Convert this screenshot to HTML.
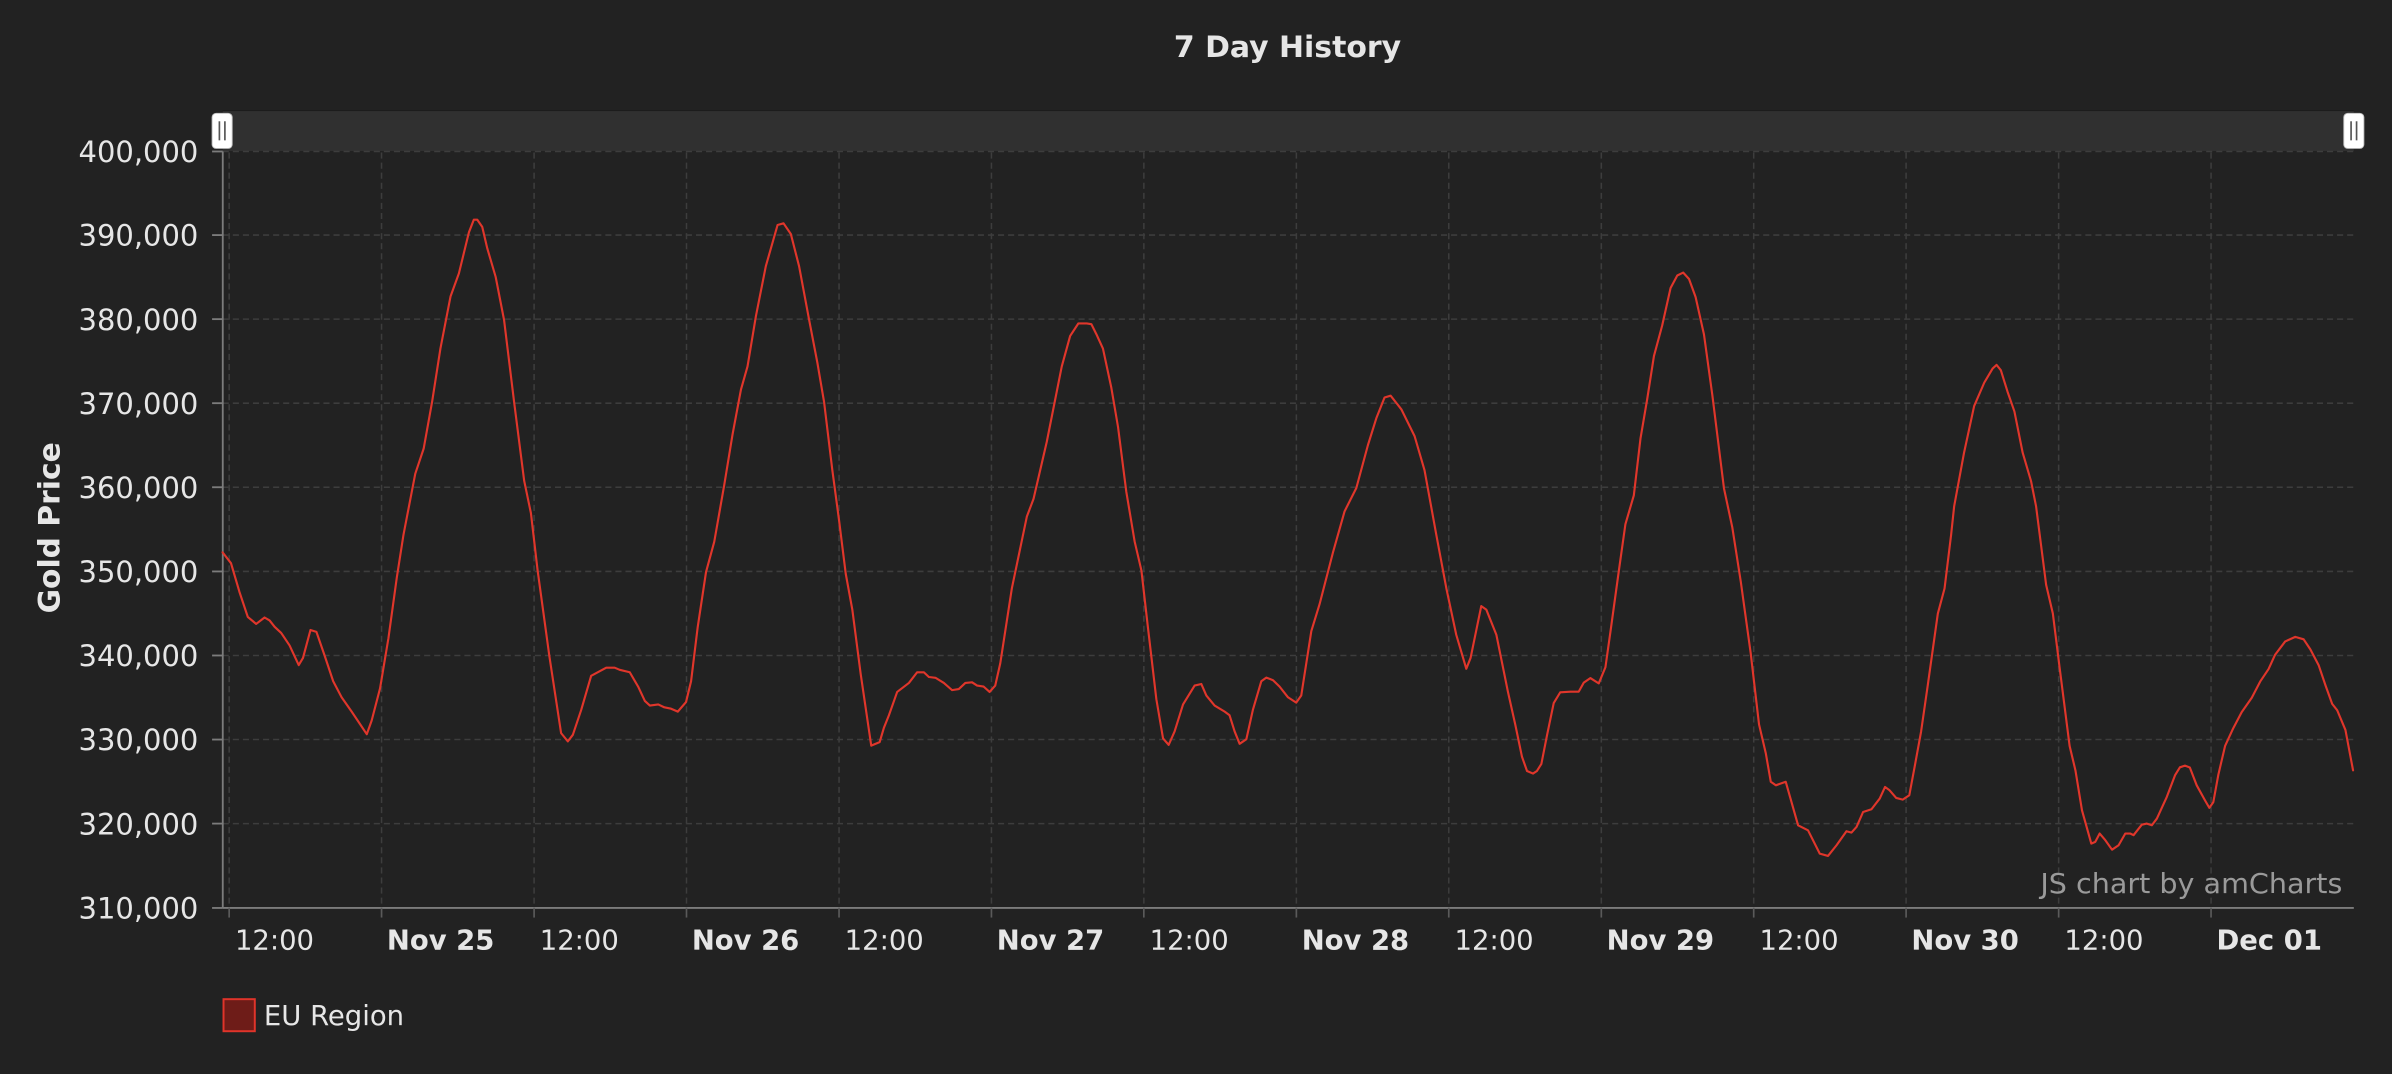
<!DOCTYPE html>
<html>
<head>
<meta charset="utf-8">
<style>
  html,body{margin:0;padding:0;background:#222222;}
  svg{display:block;}
  text{font-family:"DejaVu Sans","Liberation Sans",sans-serif;}
</style>
</head>
<body>
<svg width="2392" height="1074" viewBox="0 0 1568 704.05" xmlns="http://www.w3.org/2000/svg">
  <rect x="0" y="0" width="1568" height="704.05" fill="#222222"/>

  <!-- Title -->
  <text x="844" y="37.4" text-anchor="middle" font-size="19.5" font-weight="bold" fill="#e6e6e6" textLength="149" lengthAdjust="spacingAndGlyphs">7 Day History</text>

  <!-- Scrollbar -->
  <rect x="146" y="72.5" width="1397" height="26.5" fill="#303030"/>
  <line x1="146" y1="72.5" x2="1543" y2="72.5" stroke="#1c1c1c" stroke-width="0.7"/>

  <!-- Horizontal grid -->
  <g stroke="#3d3d3d" stroke-width="1" stroke-dasharray="4,2.6" fill="none">
    <line x1="146" y1="99.3" x2="1543" y2="99.3"/>
    <line x1="146" y1="154.1" x2="1543" y2="154.1"/>
    <line x1="146" y1="209.2" x2="1543" y2="209.2"/>
    <line x1="146" y1="264.3" x2="1543" y2="264.3"/>
    <line x1="146" y1="319.4" x2="1543" y2="319.4"/>
    <line x1="146" y1="374.6" x2="1543" y2="374.6"/>
    <line x1="146" y1="429.7" x2="1543" y2="429.7"/>
    <line x1="146" y1="484.8" x2="1543" y2="484.8"/>
    <line x1="146" y1="539.9" x2="1543" y2="539.9"/>
  </g>

  <!-- Vertical grid -->
  <g stroke="#3d3d3d" stroke-width="1" stroke-dasharray="4,2.6" fill="none">
    <line x1="150.2" y1="100" x2="150.2" y2="595"/>
    <line x1="250.1" y1="100" x2="250.1" y2="595"/>
    <line x1="350.1" y1="100" x2="350.1" y2="595"/>
    <line x1="450.0" y1="100" x2="450.0" y2="595"/>
    <line x1="550.0" y1="100" x2="550.0" y2="595"/>
    <line x1="649.9" y1="100" x2="649.9" y2="595"/>
    <line x1="749.8" y1="100" x2="749.8" y2="595"/>
    <line x1="849.8" y1="100" x2="849.8" y2="595"/>
    <line x1="949.7" y1="100" x2="949.7" y2="595"/>
    <line x1="1049.7" y1="100" x2="1049.7" y2="595"/>
    <line x1="1149.6" y1="100" x2="1149.6" y2="595"/>
    <line x1="1249.5" y1="100" x2="1249.5" y2="595"/>
    <line x1="1349.5" y1="100" x2="1349.5" y2="595"/>
    <line x1="1449.4" y1="100" x2="1449.4" y2="595"/>
  </g>

  <!-- Axes -->
  <g stroke="#7c7c7c" stroke-width="1.2" fill="none">
    <line x1="146" y1="99.3" x2="146" y2="595.2"/>
    <line x1="146" y1="595.2" x2="1543" y2="595.2"/>
    <!-- y ticks -->
    <line x1="139" y1="99.3" x2="146" y2="99.3"/>
    <line x1="139" y1="154.1" x2="146" y2="154.1"/>
    <line x1="139" y1="209.2" x2="146" y2="209.2"/>
    <line x1="139" y1="264.3" x2="146" y2="264.3"/>
    <line x1="139" y1="319.4" x2="146" y2="319.4"/>
    <line x1="139" y1="374.6" x2="146" y2="374.6"/>
    <line x1="139" y1="429.7" x2="146" y2="429.7"/>
    <line x1="139" y1="484.8" x2="146" y2="484.8"/>
    <line x1="139" y1="539.9" x2="146" y2="539.9"/>
    <line x1="139" y1="595.2" x2="146" y2="595.2"/>
  </g>
  <g stroke="#5a5a5a" stroke-width="1.1">
    <line x1="150.2" y1="595" x2="150.2" y2="601.5"/>
    <line x1="250.1" y1="595" x2="250.1" y2="601.5"/>
    <line x1="350.1" y1="595" x2="350.1" y2="601.5"/>
    <line x1="450.0" y1="595" x2="450.0" y2="601.5"/>
    <line x1="550.0" y1="595" x2="550.0" y2="601.5"/>
    <line x1="649.9" y1="595" x2="649.9" y2="601.5"/>
    <line x1="749.8" y1="595" x2="749.8" y2="601.5"/>
    <line x1="849.8" y1="595" x2="849.8" y2="601.5"/>
    <line x1="949.7" y1="595" x2="949.7" y2="601.5"/>
    <line x1="1049.7" y1="595" x2="1049.7" y2="601.5"/>
    <line x1="1149.6" y1="595" x2="1149.6" y2="601.5"/>
    <line x1="1249.5" y1="595" x2="1249.5" y2="601.5"/>
    <line x1="1349.5" y1="595" x2="1349.5" y2="601.5"/>
    <line x1="1449.4" y1="595" x2="1449.4" y2="601.5"/>
  </g>

  <!-- Y labels -->
  <g font-size="19" fill="#e6e6e6" text-anchor="end">
    <text x="130" y="106.3">400,000</text>
    <text x="130" y="161.1">390,000</text>
    <text x="130" y="216.2">380,000</text>
    <text x="130" y="271.3">370,000</text>
    <text x="130" y="326.4">360,000</text>
    <text x="130" y="381.6">350,000</text>
    <text x="130" y="436.7">340,000</text>
    <text x="130" y="491.8">330,000</text>
    <text x="130" y="546.9">320,000</text>
    <text x="130" y="602.2">310,000</text>
  </g>

  <!-- Y title -->
  <text transform="translate(39,346) rotate(-90)" text-anchor="middle" font-size="19.5" font-weight="bold" fill="#e6e6e6">Gold Price</text>

  <!-- X labels -->
  <g font-size="18" fill="#e6e6e6">
    <text x="154" y="622.6">12:00</text>
    <text x="253.6" y="622.6" font-weight="bold">Nov 25</text>
    <text x="353.8" y="622.6">12:00</text>
    <text x="453.5" y="622.6" font-weight="bold">Nov 26</text>
    <text x="553.7" y="622.6">12:00</text>
    <text x="653.4" y="622.6" font-weight="bold">Nov 27</text>
    <text x="753.6" y="622.6">12:00</text>
    <text x="853.3" y="622.6" font-weight="bold">Nov 28</text>
    <text x="953.5" y="622.6">12:00</text>
    <text x="1053.2" y="622.6" font-weight="bold">Nov 29</text>
    <text x="1153.4" y="622.6">12:00</text>
    <text x="1253.0" y="622.6" font-weight="bold">Nov 30</text>
    <text x="1353.3" y="622.6">12:00</text>
    <text x="1453.0" y="622.6" font-weight="bold">Dec 01</text>
  </g>

  <!-- Watermark -->
  <text x="1337.5" y="585.4" font-size="18" fill="#9a9a9a" textLength="198" lengthAdjust="spacingAndGlyphs">JS chart by amCharts</text>

  <!-- Series -->
  <polyline fill="none" stroke="#e0362b" stroke-width="1.4" stroke-linejoin="round" stroke-linecap="round" points="
145.9,362.1 151.4,369.2 156.9,387.9 162.4,404.4 167.9,409.0 173.4,404.8 176.7,406.7 180.0,410.9 184.3,414.9 189.8,423.1 195.8,436.0 198.6,431.3 203.5,413.0 207.4,414.2 212.9,430.1 218.4,446.6 223.9,457.1 230.5,466.5 236.0,474.7 240.4,481.3 243.6,472.4 249.1,451.3 254.6,418.4 260.1,378.6 264.5,350.4 272.2,310.5 277.7,294.1 283.2,263.6 288.7,228.4 295.3,194.4 300.8,179.2 307.4,152.2 310.6,144.0 312.8,144.0 316.1,148.7 319.4,162.8 324.9,181.5 330.4,209.7 337.0,263.6 343.6,315.2 348.0,336.3 352.4,373.9 360.1,430.1 367.8,480.6 372.2,486.0 375.5,481.7 381.0,465.3 387.5,443.0 397.4,437.7 402.9,437.7 406.2,439.1 412.8,440.7 418.3,450.1 422.7,459.5 426.0,462.5 431.5,461.8
435.5,463.7 439.9,464.6 444.3,466.5 449.7,460.2 453.0,446.6 457.3,411.4 462.8,375.0 468.2,355.1 474.8,317.6 480.2,284.7 485.7,255.4 490.0,240.2 495.5,207.3 502.0,174.5 509.7,147.5 513.6,146.4 518.4,153.4 523.8,174.5 530.4,209.7 535.8,237.8 540.2,263.6 545.6,308.2 550.0,341.0 554.4,376.2 558.7,399.6 564.2,441.9 571.1,488.8 576.6,486.5 579.4,477.1 582.7,468.9 588.1,453.6 595.8,447.7 601.2,440.7 605.6,440.7 608.9,443.8 613.2,444.3 618.7,447.7 624.1,452.4 628.5,451.7 632.8,447.7 637.2,447.3 640.5,449.4 644.8,450.1 648.7,453.6 652.4,449.4 655.7,434.8 663.3,385.6 673.1,338.7 677.5,327.0 686.2,289.5 696.0,240.2 701.5,220.2 706.9,212.0 712.4,212.0
715.4,212.5 718.7,219.1 723.0,228.5 728.5,254.2 732.9,280.0 738.3,322.3 743.8,355.1 748.2,373.9 752.5,411.4 758.0,458.3 762.4,484.1 766.1,488.3 770.0,479.4 775.5,461.8 783.1,449.4 787.5,448.4 790.8,456.0 796.2,462.5 802.8,466.5 806.0,468.9 809.3,479.4 812.6,487.6 817.0,484.6 821.3,465.3 826.8,446.6 830.1,444.2 834.5,445.9 838.8,450.1 844.3,457.1 849.7,460.6 853.0,455.9 859.6,413.7 865.0,396.1 873.8,362.1 881.4,335.2 889.1,319.9 896.7,291.8 902.2,274.2 907.6,260.6 911.6,259.4 918.6,268.3 927.3,285.9 933.8,308.2 941.5,350.4 948.1,385.6 954.6,416.1 961.2,438.4 964.0,431.3 971.0,397.3 974.3,399.6 980.9,416.1 988.5,453.6
993.3,475.0 997.7,496.1 1001.0,505.4 1004.9,507.1 1007.5,505.4 1010.4,500.8 1014.1,482.0 1018.5,460.9 1022.8,453.8 1029.4,453.4 1034.9,453.4 1038.2,447.5 1042.5,444.5 1048.0,448.0 1052.4,437.4 1055.7,414.0 1061.2,374.1 1065.5,343.6 1071.0,324.8 1075.4,287.3 1079.8,261.5 1084.2,233.4 1089.6,213.4 1095.1,188.8 1099.5,180.6 1103.4,178.7 1107.2,182.9 1111.5,194.7 1117.0,219.3 1122.5,259.2 1130.1,320.1 1135.6,345.9 1141.1,381.1 1147.6,428.0 1153.1,474.9 1157.5,493.7 1160.8,512.5 1164.1,514.8 1170.6,512.5
1178.7,541.0 1185.2,544.3 1192.9,559.6 1198.3,561.1 1203.9,554.1 1210.4,544.9 1213.7,545.8 1217.0,542.1 1221.3,532.3 1226.8,530.5 1232.2,523.5 1235.7,515.9 1238.6,518.0 1243.0,523.1 1247.3,524.2 1251.6,521.3 1255.0,503.2
1259.3,479.7 1263.7,449.2 1270.3,402.2 1274.7,385.8 1279.0,350.6 1281.0,331.9 1287.5,296.7 1294.1,266.2 1300.7,250.9 1306.2,241.6 1308.8,239.2 1311.6,242.7 1316.0,256.8 1320.5,269.7 1325.9,296.7 1331.4,315.4 1334.7,331.9 1341.3,383.4 1345.7,402.2 1350.1,437.4 1356.7,489.0 1360.5,505.0
1364.8,531.2 1370.9,553.0 1373.5,551.9 1376.4,546.4 1380.1,550.8 1384.5,557.0 1388.8,554.1 1393.2,546.4 1396.4,546.4 1398.6,547.5 1404.0,540.6 1407.3,539.9 1410.6,541.0 1413.9,536.6 1420.4,522.4 1425.8,508.2 1429.0,503.0 1432.3,501.9 1435.5,503.1 1440.0,514.8 1445.4,524.6 1448.3,529.6 1450.9,525.8 1454.2,507.8 1458.6,489.0
1464.0,477.3 1469.5,466.8 1476.1,457.4 1481.6,446.8 1487.1,438.6 1491.4,429.2 1498.0,420.5 1504.6,417.5 1510.1,419.1 1514.5,425.7 1520.0,436.2 1524.4,449.2 1528.8,461.4 1532.1,465.6 1537.5,478.5 1542.5,505.0"/>

  <!-- Scrollbar handles -->
  <g>
    <rect x="139" y="74.3" width="13.2" height="23" rx="2.6" ry="2.6" fill="#ffffff" stroke="#bdbdbd" stroke-width="0.6"/>
    <line x1="143.8" y1="79.5" x2="143.8" y2="92" stroke="#555" stroke-width="1.1"/>
    <line x1="147.4" y1="79.5" x2="147.4" y2="92" stroke="#555" stroke-width="1.1"/>
    <rect x="1536.4" y="74.3" width="13.2" height="23" rx="2.6" ry="2.6" fill="#ffffff" stroke="#bdbdbd" stroke-width="0.6"/>
    <line x1="1541.2" y1="79.5" x2="1541.2" y2="92" stroke="#555" stroke-width="1.1"/>
    <line x1="1544.8" y1="79.5" x2="1544.8" y2="92" stroke="#555" stroke-width="1.1"/>
  </g>

  <!-- Legend -->
  <rect x="146.5" y="655" width="20.5" height="21" fill="#6e1c18" stroke="#e0342a" stroke-width="1.3"/>
  <text x="173" y="672" font-size="18" fill="#e6e6e6">EU Region</text>
</svg>
</body>
</html>
